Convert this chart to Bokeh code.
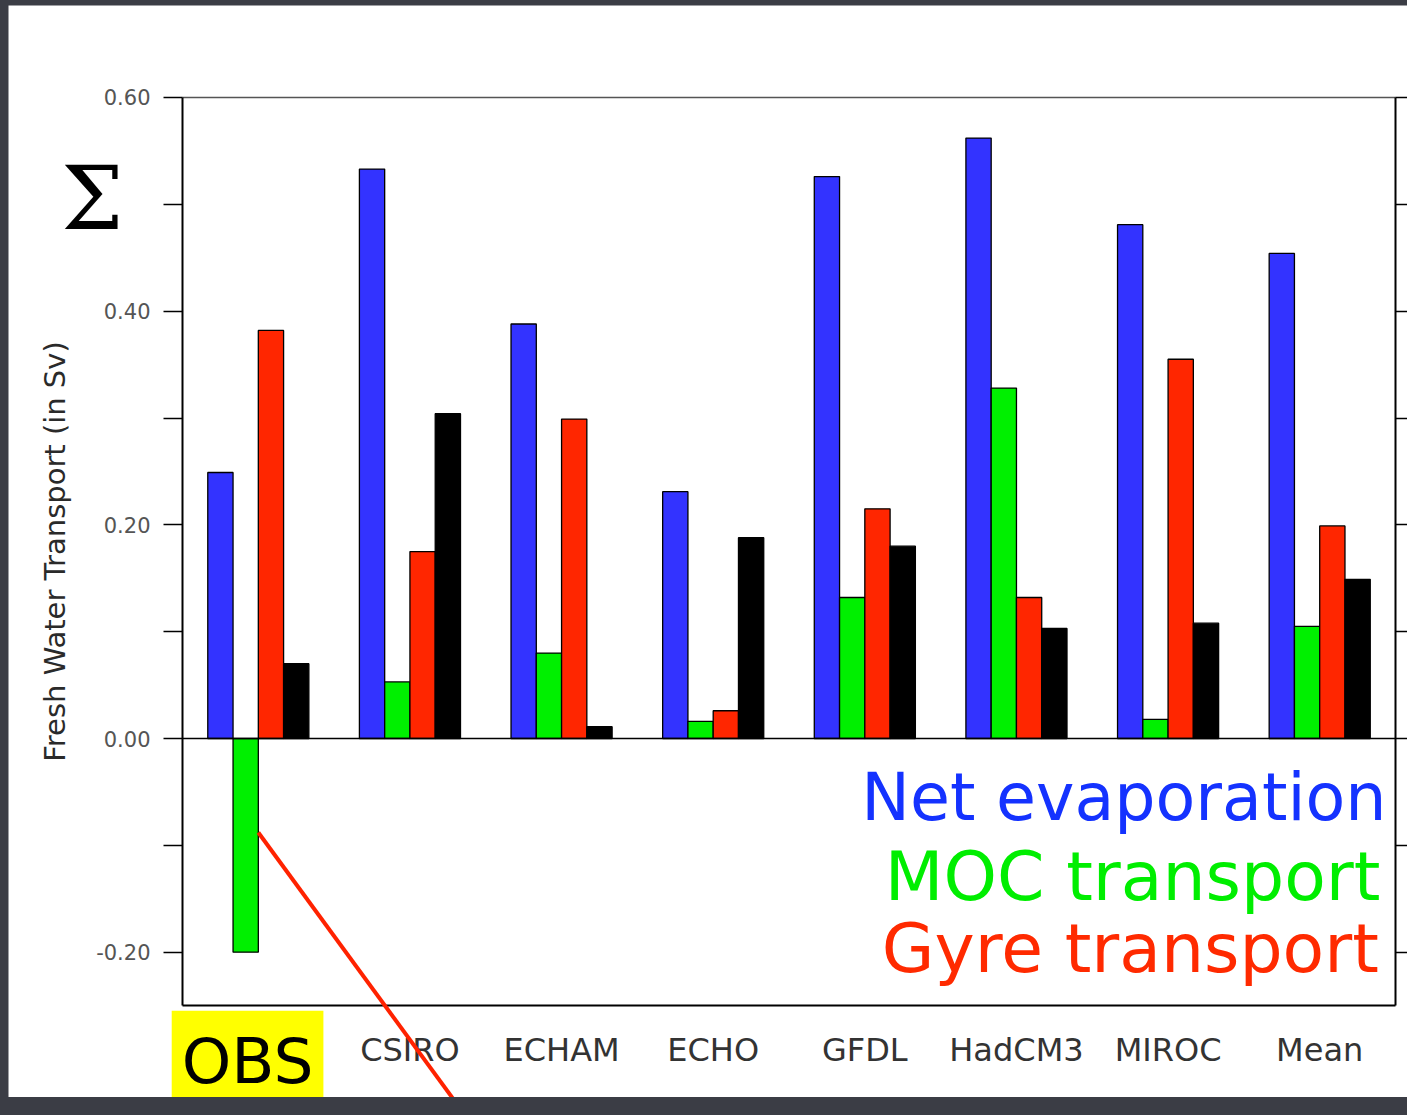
from bokeh.plotting import figure
from bokeh.models import (ColumnDataSource, Range1d, FixedTicker, LinearAxis,
                          Label, Arrow)
from bokeh.transform import dodge
from bokeh.embed import file_html
from bokeh.resources import INLINE

# ---- data ----
categories = ["OBS", "CSIRO", "ECHAM", "ECHO", "GFDL", "HadCM3", "MIROC", "Mean"]
net_evaporation = [0.249, 0.533, 0.388, 0.231, 0.526, 0.562, 0.481, 0.454]
moc_transport = [-0.200, 0.053, 0.080, 0.016, 0.132, 0.328, 0.018, 0.105]
gyre_transport = [0.382, 0.175, 0.299, 0.026, 0.215, 0.132, 0.355, 0.199]
residual = [0.070, 0.304, 0.011, 0.188, 0.180, 0.103, 0.108, 0.149]
y_ticks = [-0.2, -0.1, 0.0, 0.1, 0.2, 0.3, 0.4, 0.5, 0.6]
y_tick_labels = {-0.2: "-0.20", -0.1: "", 0.0: "0.00", 0.1: "", 0.2: "0.20",
                 0.3: "", 0.4: "0.40", 0.5: "", 0.6: "0.60"}
legend_texts = ["Net evaporation", "MOC transport", "Gyre transport"]

# axis extents of the plot box
Y_MIN, Y_MAX = -0.25, 0.60
N = len(categories)
cat_pos = [i + 0.5 for i in range(N)]

source = ColumnDataSource(dict(pos=cat_pos, net=net_evaporation, moc=moc_transport,
                               gyre=gyre_transport, res=residual))

# the frame fills the whole canvas; axes are drawn at fixed locations in it
p = figure(x_range=Range1d(-1.1476, 8.079), y_range=Range1d(-0.3360, 0.6861),
           width=1399, height=1092, output_backend="svg", toolbar_location=None,
           x_axis_location=None, y_axis_location=None,
           min_border=0, min_border_left=0, min_border_right=0,
           min_border_top=0, min_border_bottom=0)
p.background_fill_color = "white"
p.border_fill_color = "white"
p.outline_line_color = None
p.grid.visible = False

bw = 1.0 / 6.0
series = [("net", -0.25, "#3333FF"), ("moc", -0.0833, "#00F000"),
          ("gyre", 0.0833, "#FF2600"), ("res", 0.25, "#000000")]
for col, off, color in series:
    p.vbar(x=dodge("pos", off), top=col, bottom=0, width=bw, source=source,
           fill_color=color, line_color="black", line_width=1.3)

# left axis
ya = LinearAxis(ticker=FixedTicker(ticks=y_ticks, minor_ticks=[]),
                fixed_location=0, bounds=(Y_MIN, Y_MAX))
ya.major_label_overrides = y_tick_labels
ya.major_tick_out = 19
ya.major_tick_in = 0
ya.major_tick_line_color = "black"
ya.major_tick_line_width = 1.5
ya.axis_line_color = "black"
ya.axis_line_width = 2
ya.major_label_standoff = 13
ya.major_label_text_font = "DejaVu Sans"
ya.major_label_text_font_size = "21px"
ya.major_label_text_color = "#555555"
ya.axis_label = "Fresh Water Transport (in Sv)"
ya.axis_label_text_font = "DejaVu Sans"
ya.axis_label_text_font_style = "normal"
ya.axis_label_text_font_size = "29px"
ya.axis_label_text_color = "#2a2a2a"
ya.axis_label_standoff = 21
p.add_layout(ya, "left")

# right axis (ticks only)
ra = LinearAxis(ticker=FixedTicker(ticks=y_ticks, minor_ticks=[]),
                fixed_location=N, bounds=(Y_MIN, Y_MAX))
ra.major_tick_out = 14
ra.major_tick_in = 0
ra.major_tick_line_width = 1.5
ra.axis_line_color = "black"
ra.axis_line_width = 2
ra.major_label_overrides = {t: "" for t in y_ticks}
p.add_layout(ra, "right")

# bottom axis with the category names
xa = LinearAxis(ticker=FixedTicker(ticks=cat_pos, minor_ticks=[]),
                fixed_location=Y_MIN, bounds=(0, N))
xa.major_label_overrides = {x: ("" if c == "OBS" else c) for x, c in zip(cat_pos, categories)}
xa.major_tick_out = 0
xa.major_tick_in = 0
xa.axis_line_color = "black"
xa.axis_line_width = 2
xa.major_label_standoff = 25
xa.major_label_text_font = "DejaVu Sans"
xa.major_label_text_font_size = "32px"
xa.major_label_text_color = "#333333"
p.add_layout(xa, "below")

# top edge of the box and the zero line
for loc, color, lw in [(Y_MAX, "#555555", 1.5), (0, "black", 1.5)]:
    ax = LinearAxis(ticker=FixedTicker(ticks=[]), fixed_location=loc, bounds=(0, N))
    ax.axis_line_color = color
    ax.axis_line_width = lw
    ax.major_tick_line_color = None
    ax.minor_tick_line_color = None
    ax.major_label_text_font_size = "1px"
    p.add_layout(ax, "above")

# annotations
p.add_layout(Label(x=-0.594, y=0.5055, text="Σ", text_font="DejaVu Serif",
                   text_font_size="88px", text_color="black", text_align="center",
                   text_baseline="alphabetic"))
p.add_layout(Label(x=0.429, y=-0.2955, text=categories[0], text_font="DejaVu Sans",
                   text_font_size="63px", text_color="black", text_align="center",
                   text_baseline="middle", background_fill_color="#FFFF00",
                   padding=dict(left=10, right=10, top=14, bottom=0)))

legend_colors = ["#1432FF", "#00EE00", "#FF2A00"]
legend_sizes = ["65px", "68px", "68px"]
legend_x = [7.94, 7.90, 7.89]
legend_y = [-0.0552, -0.1292, -0.1966]
for t, c, s, xx, yy in zip(legend_texts, legend_colors, legend_sizes, legend_x, legend_y):
    p.add_layout(Label(x=xx, y=yy, text=t, text_font="DejaVu Sans",
                       text_font_size=s, text_color=c, text_align="right",
                       text_baseline="alphabetic"))

p.add_layout(Arrow(end=None, x_start=0.5, y_start=-0.088, x_end=1.866, y_end=-0.353,
                   line_color="#FF2200", line_width=4))

html = file_html(p, INLINE)
i = html.rfind("<body")
html = (html[:i] + '<body style="background-color:#3b3d45; overflow:hidden; '
        'margin:5px 0 0 8px;"' + html[i + 5:])
open("out.html", "w").write(html)
